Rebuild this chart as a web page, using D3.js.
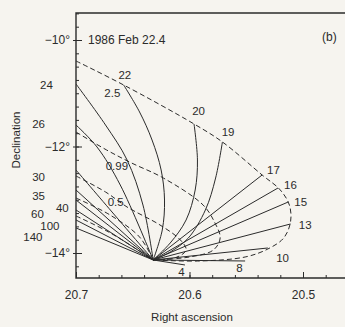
<!DOCTYPE html>
<html>
<head>
<meta charset="utf-8">
<script src="https://cdn.jsdelivr.net/npm/d3@7"></script>
<style>
  html, body { margin: 0; padding: 0; background: #f6f4ef; }
  svg { display: block; font-family: "Liberation Sans", Arial, Helvetica, sans-serif; }
</style>
</head>
<body>
<script>
// Halley, 1986 Feb 22.4 -- synchrones (solid) and syndynes (dashed)
// all points are [right ascension (h), declination (deg)]
const nucleus = [20.632, -14.131];

// synchrones, outer end first; the nucleus is added when drawing
const synchroneDays = ["4", "8", "10", "13", "15", "16", "17", "19", "20", "22",
                       "24", "26", "30", "35", "40", "60", "100", "140"];
const synchronePaths = [
  [[20.604, -14.225]],
  [[20.551, -14.150]],
  [[20.531, -13.906]],
  [[20.511, -13.455]],
  [[20.513, -13.042]],
  [[20.522, -12.779]],
  [[20.536, -12.535]],
  [[20.571, -11.915], [20.577, -12.592], [20.586, -13.192], [20.601, -13.718], [20.617, -13.981]],
  [[20.596, -11.577], [20.593, -12.253], [20.595, -12.817], [20.603, -13.380], [20.617, -13.812]],
  [[20.658, -10.845], [20.644, -11.352], [20.633, -11.878], [20.625, -12.441], [20.622, -13.005], [20.624, -13.568]],
  [[20.700, -10.826], [20.674, -11.596], [20.655, -12.253], [20.641, -13.099]],
  [[20.700, -11.596], [20.6815, -12.009], [20.661, -12.723]],
  [[20.700, -12.441], [20.666, -13.286]],
  [[20.700, -12.817]],
  [[20.700, -13.005]],
  [[20.700, -13.192]],
  [[20.700, -13.380]],
  [[20.700, -13.530]]
];

// syndynes (beta), from the left edge round to the nucleus
const betaValues = ["2.5", "0.99", "0.5", "", ""];
const syndynePaths = [
  [[20.700, -10.394], [20.658, -10.845], [20.596, -11.577], [20.571, -11.915], [20.536, -12.535],
   [20.520, -12.817], [20.512, -13.099], [20.511, -13.418], [20.517, -13.718], [20.531, -13.925],
   [20.551, -14.075], [20.591, -14.150]],
  [[20.700, -11.728], [20.673, -12.066], [20.651, -12.310], [20.623, -12.592], [20.588, -13.099],
   [20.578, -13.418], [20.573, -13.718], [20.579, -13.944], [20.600, -14.075]],
  [[20.700, -12.554], [20.674, -12.854], [20.655, -13.136], [20.626, -13.474], [20.608, -13.756],
   [20.603, -13.944], [20.613, -14.094]],
  [[20.700, -12.967], [20.670, -13.286], [20.644, -13.700]],
  [[20.700, -13.305], [20.670, -13.620]]
];

// where the numbers are printed
const synchroneLabelPos = [
  [20.607, -14.345], [20.556, -14.285], [20.518, -14.094], [20.498, -13.474], [20.502, -13.042],
  [20.511, -12.723], [20.526, -12.441], [20.566, -11.728], [20.592, -11.333], [20.657, -10.657],
  [20.726, -10.845], [20.733, -11.577], [20.733, -12.573], [20.733, -12.930], [20.712, -13.155],
  [20.734, -13.267], [20.723, -13.493], [20.738, -13.699]
];
const syndyneLabelPos = [[20.668, -10.995], [20.664, -12.366], [20.665, -13.042]];

const raMajor = [20.7, 20.6, 20.5];
const raMinor = d3.range(20.46, 20.705, 0.02);
const decMajor = [-10, -12, -14];
const decMinor = d3.range(-9.5, -14.5, -0.25);

const W = 345, H = 327;
const pLeft = 76, pRight = 345, pTop = 13, pBottom = 278;
const ink = "#2b2b2b";

const x = d3.scaleLinear().domain([20.7, 20.5]).range([76, 303]);
const y = d3.scaleLinear().domain([-10, -14]).range([40, 253]);

const svg = d3.select("body").append("svg")
  .attr("width", W).attr("height", H)
  .style("background", "#f6f4ef");

svg.append("clipPath").attr("id", "plot")
  .append("rect").attr("x", pLeft).attr("y", pTop)
  .attr("width", pRight - pLeft).attr("height", pBottom - pTop);

const line = d3.line()
  .x(d => x(d[0])).y(d => y(d[1]))
  .curve(d3.curveCatmullRom.alpha(0.5));

const g = svg.append("g").attr("clip-path", "url(#plot)");

g.selectAll(".syndyne").data(syndynePaths).join("path")
  .attr("class", "syndyne")
  .attr("d", d => line(d.concat([nucleus])))
  .attr("fill", "none").attr("stroke", ink)
  .attr("stroke-width", 1).attr("stroke-dasharray", "5,3");

g.selectAll(".synchrone").data(synchronePaths).join("path")
  .attr("class", "synchrone")
  .attr("d", d => line(d.concat([nucleus])))
  .attr("fill", "none").attr("stroke", ink).attr("stroke-width", 1);

// frame
svg.append("path")
  .attr("d", `M${pRight},${pTop}H${pLeft}V${pBottom}H${pRight}`)
  .attr("fill", "none").attr("stroke", ink).attr("stroke-width", 1.4);

// axes
const xAxisG = svg.append("g").attr("transform", `translate(0,${pBottom})`);
xAxisG.append("g").call(d3.axisBottom(x).tickValues(raMinor).tickSize(-3).tickFormat(""));
xAxisG.append("g").call(d3.axisBottom(x).tickValues(raMajor).tickSize(-6).tickPadding(12)
  .tickFormat(d3.format(".1f")));

const yAxisG = svg.append("g").attr("transform", `translate(${pLeft},0)`);
yAxisG.append("g").call(d3.axisLeft(y).tickValues(decMinor).tickSize(-3).tickFormat(""));
yAxisG.append("g").call(d3.axisLeft(y).tickValues(decMajor).tickSize(3).tickFormat(""));
yAxisG.append("g").call(d3.axisLeft(y).tickValues(decMajor).tickSize(-6).tickPadding(6)
  .tickFormat(d => "\u2212" + Math.abs(d) + "\u00b0"));

svg.selectAll(".domain").remove();
svg.selectAll(".tick line").attr("stroke", ink).attr("stroke-width", 1);
svg.selectAll(".tick text").attr("fill", ink).style("font-size", "12px")
  .style("font-family", '"Liberation Sans", Arial, sans-serif');

// curve labels
const lab = svg.append("g").attr("fill", ink).style("font-size", "11.5px")
  .attr("text-anchor", "middle");
lab.selectAll(".sl").data(synchroneDays).join("text")
  .attr("x", (d, i) => x(synchroneLabelPos[i][0]))
  .attr("y", (d, i) => y(synchroneLabelPos[i][1]))
  .attr("dy", "0.36em").text(d => d);
lab.selectAll(".bl").data(betaValues.filter(b => b)).join("text")
  .attr("x", (d, i) => x(syndyneLabelPos[i][0]))
  .attr("y", (d, i) => y(syndyneLabelPos[i][1]))
  .attr("dy", "0.36em").text(d => d);

svg.append("text").attr("x", 88).attr("y", 44).attr("fill", ink)
  .style("font-size", "12px").text("1986 Feb 22.4");
svg.append("text").attr("x", 322).attr("y", 41).attr("fill", ink)
  .style("font-size", "12px").text("(b)");

svg.append("text").attr("x", 192).attr("y", 321).attr("fill", ink)
  .attr("text-anchor", "middle").style("font-size", "11.5px").text("Right ascension");
svg.append("text").attr("transform", "translate(16,140) rotate(-90)").attr("fill", ink)
  .attr("text-anchor", "middle").attr("dy", "0.35em").style("font-size", "11.5px")
  .text("Declination");
</script>
</body>
</html>
